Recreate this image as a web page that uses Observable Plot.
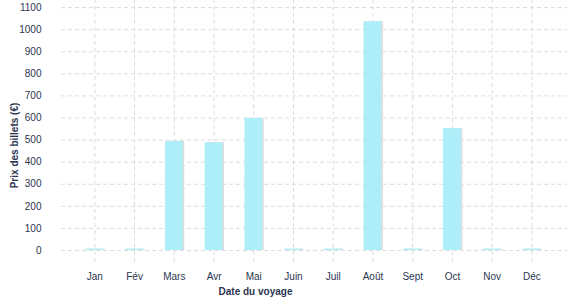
<!DOCTYPE html>
<html>
<head>
<meta charset="utf-8">
<script src="https://cdn.jsdelivr.net/npm/d3@7"></script>
<script src="https://cdn.jsdelivr.net/npm/@observablehq/plot@0.6"></script>
<style>
  html, body { margin: 0; padding: 0; background: #fff; }
  #chart svg { display: block; }
</style>
</head>
<body>
<div id="chart"></div>
<script>
const months = ["Jan", "Fév", "Mars", "Avr", "Mai", "Juin", "Juil", "Août", "Sept", "Oct", "Nov", "Déc"];
const prices = [6, 6, 494, 488, 598, 6, 6, 1036, 6, 552, 6, 6];
const yTicks = [0, 100, 200, 300, 400, 500, 600, 700, 800, 900, 1000, 1100];
const xLabel = "Date du voyage";
const yLabel = "Prix des billets (€)";

const data = months.map((m, i) => ({month: m, price: prices[i]}));
const textColor = "#2b3551";
const gridColor = "#dcdcdc";

const chart = Plot.plot({
  width: 577,
  height: 300,
  marginLeft: 61,
  marginRight: 10,
  marginTop: 0,
  marginBottom: 50,
  style: {fontFamily: "'Liberation Sans', Arial, sans-serif", fontSize: "10px", color: textColor, background: "#fff"},
  x: {domain: months, paddingInner: 0.55, paddingOuter: 0.643, align: 0.478, round: false, label: null},
  y: {domain: [0, 1132], label: null},
  marks: [
    Plot.ruleY(yTicks, {stroke: gridColor, strokeWidth: 1, strokeDasharray: "4,3"}),
    Plot.ruleX(months, {x: d => d, y1: -54, y2: 1132, stroke: gridColor, strokeWidth: 1, strokeDasharray: "4,3"}),
    Plot.barY(data, {x: "month", y: "price", fill: "#dddddd", dx: 1.5}),
    Plot.barY(data, {x: "month", y: "price", fill: "#aeeef8"}),
    Plot.axisY({ticks: yTicks, tickFormat: d => String(d), tickSize: 0, tickPadding: 20, label: null, fill: textColor, letterSpacing: "-0.3px"}),
    Plot.axisX({tickSize: 0, tickPadding: 22, label: null, fill: textColor}),
    Plot.text([xLabel], {text: d => d, frameAnchor: "bottom", dx: -59, dy: 44, fontWeight: "bold", fill: textColor, fontSize: 10}),
    Plot.text([yLabel], {text: d => d, frameAnchor: "left", textAnchor: "middle", rotate: -90, dx: -47, dy: 20, fontWeight: "bold", fill: textColor, fontSize: 10})
  ]
});
document.getElementById("chart").append(chart);
</script>
</body>
</html>
